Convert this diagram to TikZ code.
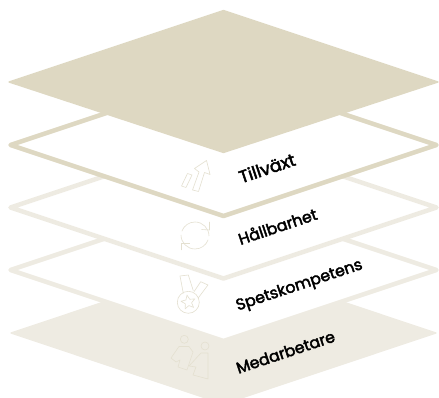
\documentclass[tikz,border=0pt]{standalone}
\usepackage{fontspec}
\newfontfamily\labfont{Poppins}[FakeBold=2.6]
\usetikzlibrary{shapes.geometric}
\definecolor{sand}{RGB}{222,216,194}
\definecolor{pale}{RGB}{238,235,226}
\definecolor{iconline}{RGB}{228,224,208}
\tikzset{
	plate/.style={line width=3.4pt, line join=round},
	icon/.style={draw=iconline, line width=0.45pt, line join=round},
	lab/.style={rotate=18.5, font=\fontsize{11.8}{12}\labfont, text=black, inner sep=0pt}
}
\newcommand{\plate}[3]{% [y centre]{draw}{fill}
	\path[plate, draw=#2, fill=#3] (10.5,#1) -- (223.5,#1-71) -- (436.5,#1) -- (223.5,#1+71) -- cycle;
}
\begin{document}
\begin{tikzpicture}[x=0.75pt, y=-0.75pt]
	\useasboundingbox (0,0) rectangle (439,398);
	\clip (0,0) rectangle (439,398);

	% plates, bottom one first
	\path[fill=pale, draw=pale, line width=1pt, line join=round] (11,333) -- (223.5,262) -- (436,333) -- (223.5,404) -- cycle;
	\plate{270}{pale}{white}
	\plate{207.5}{pale}{white}
	\plate{145}{sand}{white}
	\path[fill=sand, draw=sand, line width=1pt, line join=round] (9,82) -- (223.5,10.5) -- (438,82) -- (223.5,152.5) -- cycle;

	% growth icon
	\draw[icon] (187.5,173.5) -- (192,175) -- (186,187.5) -- (181.5,186) -- cycle;
	\draw[icon] (192.5,190) -- (199,172) -- (194.5,168.5) -- (206.5,160.5) -- (210,174.5) -- (204.5,172.5) -- (198.5,191.5) -- cycle;

	% cycle icon
	\draw[icon] (181,235) arc[start angle=180, end angle=20, radius=14];
	\draw[icon] (209,236) arc[start angle=0, end angle=-160, radius=14];
	\draw[icon] (209.5,222) -- (209.5,230) -- (201.5,229.5);
	\draw[icon] (181.5,250.5) -- (181.5,243) -- (189.5,243);

	% medal icon
	\draw[icon] (188.3,302.3) circle[radius=11];
	\node[star, star points=5, star point ratio=2.2, minimum size=11pt, inner sep=0pt, icon, rotate=10] (medal) at (188.3,302.3) {};
	\draw[icon] (183.3,293.3) -- (180,276) -- (188.3,275) -- (193.3,290.7);
	\draw[icon] (194,291.7) -- (200.7,281.7) -- (208,285) -- (198,298.3);

	% people icon
	\draw[icon] (184.3,339.3) circle[radius=4];
	\draw[icon] (205,346) circle[radius=4];
	\draw[icon] (179,346.5) -- (189,346.5) -- (193,352) -- (187,370) -- (178,367) -- (180,360) -- (176,362) -- (171,358) -- cycle;
	\draw[icon] (201,353) -- (208,353) -- (208,379) -- (193,375) -- (196,367) -- (189,366) -- cycle;

	\node[lab, font=\fontsize{13}{14}\labfont] (tillvaxt) at (267,168) {Tillväxt};
	\node[lab] (hallbarhet) at (277.5,226) {Hållbarhet};
	\node[lab] (spets) at (299.5,286) {Spetskompetens};
	\node[lab] (medarbetare) at (285.5,352) {Medarbetare};
\end{tikzpicture}
\end{document}
